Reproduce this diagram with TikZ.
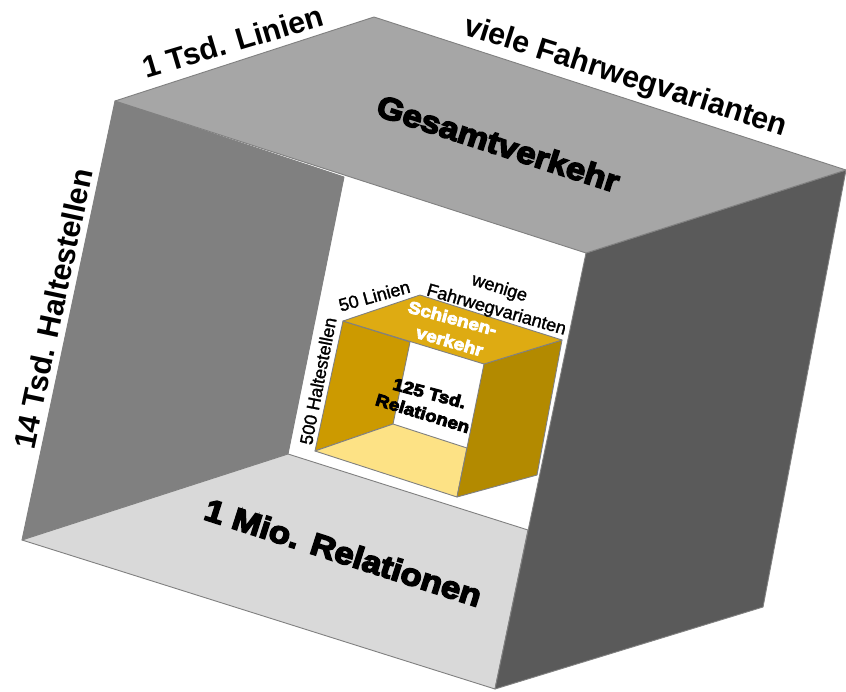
\documentclass[tikz,border=0pt]{standalone}
\usepackage{fontspec}
\setmainfont{Liberation Sans}
\newfontfamily\heavy{Liberation Sans}[BoldFeatures={FakeBold=5,FakeStretch=1.12}]
\newfontfamily\medium{Liberation Sans}[UprightFeatures={FakeBold=1.5}]
\definecolor{edgegray}{HTML}{808080}
\definecolor{otop}{HTML}{A6A6A6}
\definecolor{oleft}{HTML}{808080}
\definecolor{oright}{HTML}{5A5A5A}
\definecolor{obottom}{HTML}{D9D9D9}
\definecolor{itop}{HTML}{DEAB12}
\definecolor{ileft}{HTML}{CC9A00}
\definecolor{iright}{HTML}{B38A00}
\definecolor{ibottom}{HTML}{FDE285}
\tikzset{
  face/.style={draw=edgegray, line width=0.9pt, line join=round},
  biglabel/.style={font=\fontsize{30.5}{36}\selectfont\bfseries, inner sep=0pt},
  blacklabel/.style={font=\fontsize{31}{37}\selectfont\heavy\bfseries, inner sep=0pt},
  smalllabel/.style={font=\fontsize{18}{21}\selectfont\medium, inner sep=0pt},
  smallheavy/.style={font=\fontsize{17}{20}\selectfont\heavy\bfseries, inner sep=0pt},
}
\begin{document}
\begin{tikzpicture}[x=1pt,y=-1pt]
\fill[white] (0,0) rectangle (846,691);
\useasboundingbox (0,0) rectangle (846,691);
% outer box corners
\coordinate (A) at (115,101);
\coordinate (B) at (374,17);
\coordinate (D) at (846,170);
\coordinate (E) at (586,253);
\coordinate (C) at (344,177);
\coordinate (J) at (22,540);
\coordinate (I) at (288,454);
\coordinate (H) at (528,530);
\coordinate (G) at (495,689);
\coordinate (F) at (763,607);
\filldraw[face, fill=oleft] (A) -- (C) -- (I) -- (J) -- cycle;
\filldraw[face, fill=obottom] (J) -- (I) -- (H) -- (G) -- cycle;
\filldraw[face, fill=oright] (E) -- (D) -- (F) -- (G) -- cycle;
\filldraw[face, fill=otop] (A) -- (B) -- (D) -- (E) -- cycle;
% inner box corners
\coordinate (a) at (343,321);
\coordinate (b) at (420,295);
\coordinate (c) at (562,340);
\coordinate (e) at (484,364);
\coordinate (cc) at (410,342);
\coordinate (ii) at (393,424);
\coordinate (jj) at (315,451);
\coordinate (hh) at (467,448);
\coordinate (gg) at (457,497);
\coordinate (f) at (537,475);
\filldraw[face, fill=ileft] (a) -- (cc) -- (ii) -- (jj) -- cycle;
\filldraw[face, fill=ibottom] (jj) -- (ii) -- (hh) -- (gg) -- cycle;
\filldraw[face, fill=iright] (e) -- (c) -- (f) -- (gg) -- cycle;
\filldraw[face, fill=itop] (a) -- (b) -- (c) -- (e) -- cycle;
% outer labels
\node[biglabel, anchor=base, rotate=16.6] (linien) at (236,52) {1 Tsd. Linien};
\node[biglabel, anchor=base, rotate=-17.6] (varianten) at (623,85) {viele Fahrwegvarianten};
\node[blacklabel, anchor=base, rotate=-17.9] (gesamt) at (495,154) {Gesamtverkehr};
\node[blacklabel, anchor=base, rotate=-17.8] (relationen) at (340,563) {1 Mio. Relationen};
\node[biglabel, anchor=center, rotate=78] (halte) at (53,309) {14 Tsd. Haltestellen};
% inner labels
\node[smalllabel, anchor=base, rotate=15.5] (linien2) at (376,302) {50 Linien};
\node[smalllabel, anchor=base, rotate=-17.5] (wenige) at (498,293) {wenige};
\node[smalllabel, anchor=base, rotate=-16] (fahrweg) at (495,315) {Fahrwegvarianten};
\node[smalllabel, anchor=center, rotate=79] (halte2) at (318,381) {500 Haltestellen};
\node[smallheavy, anchor=base, text=white, rotate=-15] (schienen) at (451,324) {Schienen-};
\node[smallheavy, anchor=base, text=white, rotate=-16] (verkehr) at (448,347) {verkehr};
\node[smallheavy, anchor=base, rotate=-15] (tsd) at (428,399) {125 Tsd.};
\node[smallheavy, anchor=base, rotate=-17] (rel2) at (421,419) {Relationen};
\end{tikzpicture}
\end{document}
